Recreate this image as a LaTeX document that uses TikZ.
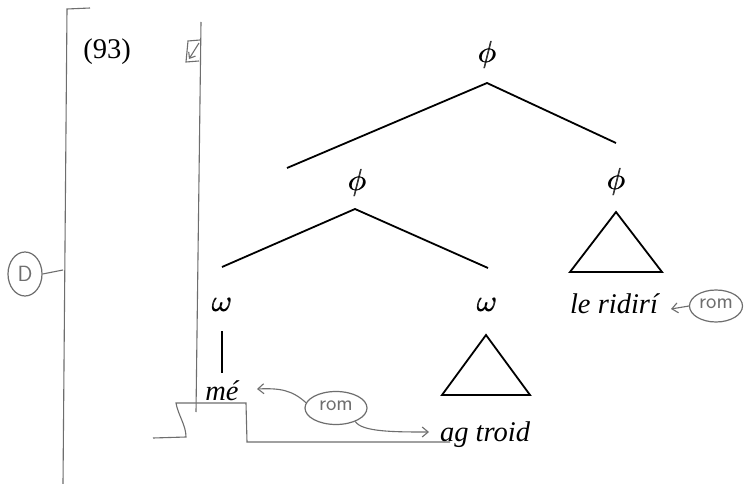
\documentclass[tikz,border=0pt]{standalone}
\usepackage{fontspec}
\setmainfont{Liberation Serif}
\usetikzlibrary{arrows.meta,shapes.geometric}
\definecolor{pencil}{RGB}{110,110,110}
\tikzset{
  txt/.style={inner sep=0pt, font=\fontsize{28.5}{34}\selectfont},
  sym/.style={inner sep=0pt},
  tree/.style={line width=1.8pt, black},
  pen/.style={line width=1.1pt, pencil},
  oval/.style={draw=pencil, line width=1.2pt, ellipse, inner sep=0pt},
  hand/.style={text=pencil, inner sep=0pt, font=\sffamily\fontsize{22}{26}\selectfont},
  parr/.style={pen, -{Straight Barb[length=6pt,width=10pt]}},
}
\newcommand{\bigsym}[1]{\scalebox{3.05}{$#1$}}
\newcommand{\fatsym}[1]{\rlap{\bigsym{#1}}\kern0.7pt\bigsym{#1}}
\begin{document}
\begin{tikzpicture}[x=1pt,y=-1pt]
\useasboundingbox[fill=white] (0,0) rectangle (747,484);

% label
\node[txt] (ex) at (107,52) {(93)};

% top phi
\node[sym] (p0) at (487,55) {\fatsym{\phi}};
\coordinate (t0) at (487,83);
\coordinate (t0l) at (287,168);
\coordinate (t0r) at (616,143);
\draw[tree] (t0l) -- (t0) -- (t0r);

% middle phi
\node[sym] (p1) at (357,183) {\fatsym{\phi}};
\coordinate (t1) at (355,209);
\coordinate (t1l) at (222,267);
\coordinate (t1r) at (488,268);
\draw[tree] (t1l) -- (t1) -- (t1r);

% right phi with triangle
\node[sym] (p2) at (616,182) {\fatsym{\phi}};
\coordinate (tr2a) at (616,212);
\coordinate (tr2l) at (570,272);
\coordinate (tr2r) at (662,272);
\draw[tree, line join=miter] (tr2a) -- (tr2l) -- (tr2r) -- cycle;
\node[txt] (rid) at (614,304) {\itshape le ridirí};

% left omega
\node[sym] (w1) at (222,305) {\fatsym{\omega}};
\coordinate (w1a) at (222,331);
\coordinate (w1b) at (222,373);
\draw[tree] (w1a) -- (w1b);
\node[txt] (me) at (222,391) {\itshape mé};

% right omega with triangle
\node[sym] (w2) at (487,305) {\fatsym{\omega}};
\coordinate (tr3a) at (486,335);
\coordinate (tr3l) at (442,395);
\coordinate (tr3r) at (530,395);
\draw[tree, line join=miter] (tr3a) -- (tr3l) -- (tr3r) -- cycle;
\node[txt] (ag) at (485,435) {\itshape ag troid};

% pencil: left bracket with D
\coordinate (L1) at (67,9);
\coordinate (L0) at (90,8);
\coordinate (L2) at (63,484);
\draw[pen] (L0) -- (L1) -- (L2);
\node[oval, minimum width=34pt, minimum height=44pt] (D) at (25,274) {};
\node[hand] (Dt) at (25,274) {D};
\coordinate (Dj) at (63,270);
\draw[pen] (D.east) -- (Dj);

% pencil: second vertical line with mark
\coordinate (V1) at (201,22);
\coordinate (V2) at (196,412);
\draw[pen] (V1) -- (V2);
\coordinate (m1) at (200,40);
\coordinate (m2) at (188,41);
\coordinate (m3) at (186,62);
\coordinate (m4) at (199,61);
\draw[pen] (m1) -- (m2) -- (m3) -- (m4);
\coordinate (m5) at (199,43);
\coordinate (m6) at (189,59);
\draw[pen, -{Straight Barb[length=5pt,width=8pt]}] (m5) -- (m6);

% pencil: bracket under me
\coordinate (b1) at (176,403);
\coordinate (b2) at (246,403);
\coordinate (b3) at (186,437);
\coordinate (b4) at (153,438);
\coordinate (b5) at (247,442);
\coordinate (b6) at (450,442);
\draw[pen] (b4) -- (b3) .. controls (186,425) and (178,415) .. (b1) -- (b2) -- (b5) -- (b6);

% rom annotations
\node[oval, minimum width=62pt, minimum height=33pt] (rom1) at (336,408) {};
\node[hand] (rom1t) at (336,406) {rom};
\coordinate (meTip) at (257,389);
\coordinate (agTip) at (429,432);
\draw[parr] (rom1.170) .. controls (292,390) and (280,388) .. (meTip);
\draw[parr] (rom1.-35) .. controls (362,432) and (395,432) .. (agTip);

\node[oval, minimum width=53pt, minimum height=32pt] (rom2) at (716,306) {};
\node[hand] (rom2t) at (716,304) {rom};
\coordinate (ridTip) at (671,309);
\draw[parr] (rom2.west) -- (ridTip);
\end{tikzpicture}
\end{document}
